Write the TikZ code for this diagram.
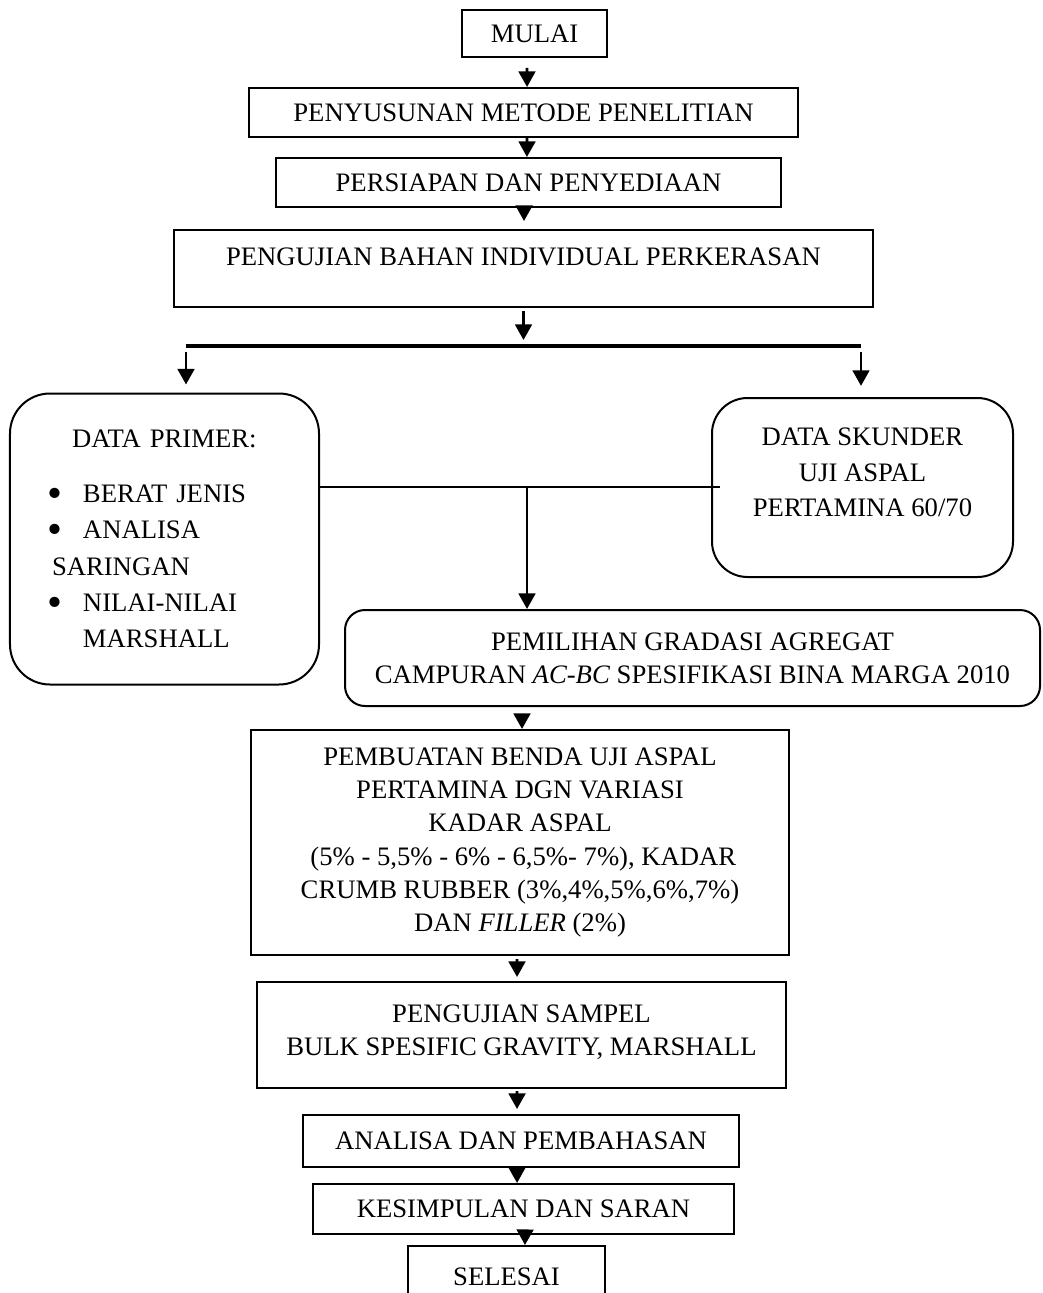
\documentclass[tikz,border=0pt]{standalone}
\usepackage{fontspec}
\setmainfont{Liberation Serif}
\usetikzlibrary{arrows.meta}
\newcommand{\bigdot}{\makebox[16.2pt][l]{\raisebox{-2.2pt}{\scalebox{1.6}{\textbullet}}}}

\begin{document}
\begin{tikzpicture}[
  x=0.45pt, y=-0.45pt,
  box/.style={draw, line width=0.9pt, align=center, inner sep=0pt,
    font=\fontsize{12}{15}\selectfont},
  rbox/.style={box, rounded corners=#1},
  arr/.style={-{Triangle[length=7pt,width=7.5pt]}, line width=1.2pt},
  link/.style={line width=1.2pt},
  bar/.style={line width=1.8pt}
]
\useasboundingbox (0,0) rectangle (1042,1293);
% upper steps
\node[box, minimum width=65.25pt, minimum height=21.15pt] (mulai) at (534.5,33.5) {MULAI};
\node[box, minimum width=247.05pt, minimum height=22.05pt] (metode) at (523.5,112.5) {PENYUSUNAN METODE PENELITIAN};
\node[box, minimum width=227.25pt, minimum height=22.05pt] (persiapan) at (528.5,182.5) {PERSIAPAN DAN PENYEDIAAN};
\node[box, minimum width=314.55pt, minimum height=34.65pt, text depth=10.4pt] (bahan) at (523.5,268.5) {PENGUJIAN BAHAN INDIVIDUAL PERKERASAN};
% data boxes
\node[rbox=18pt, minimum width=139.05pt, minimum height=130.95pt, text width=105.75pt,
  inner xsep=16.65pt, align=left, font=\fontsize{12}{16.3}\selectfont] (primer) at (164.5,539)
  {\hspace*{11.25pt}DATA PRIMER:\\[8.45pt]
   \bigdot BERAT JENIS\\
   \bigdot ANALISA\\
   \hspace*{2.25pt}SARINGAN\\
   \bigdot NILAI-NILAI\\
   \hspace*{16.2pt}MARSHALL};
\node[rbox=16pt, minimum width=135.45pt, minimum height=80.55pt, text depth=13.5pt,
  font=\fontsize{12}{16}\selectfont] (skunder) at (862.5,487.5) {DATA SKUNDER\\UJI ASPAL\\PERTAMINA 60/70};
\node[rbox=9pt, minimum width=312.75pt, minimum height=43.2pt] (pemilihan) at (692.5,658)
  {PEMILIHAN GRADASI AGREGAT\\CAMPURAN \textit{AC-BC} SPESIFIKASI BINA MARGA 2010};
% lower steps
\node[box, minimum width=242.1pt, minimum height=101.25pt] (pembuatan) at (520,842.5)
  {PEMBUATAN BENDA UJI ASPAL\\PERTAMINA DGN VARIASI\\KADAR ASPAL\\
   \hspace*{3pt}(5\% - 5,5\% - 6\% - 6,5\%- 7\%), KADAR\\
   CRUMB RUBBER (3\%,4\%,5\%,6\%,7\%)\\DAN \textit{FILLER} (2\%)};
\node[box, minimum width=238.05pt, minimum height=47.7pt, text depth=4.5pt] (sampel) at (521.5,1035)
  {PENGUJIAN SAMPEL\\BULK SPESIFIC GRAVITY, MARSHALL};
\node[box, minimum width=196.2pt, minimum height=23.4pt] (analisa) at (521,1141) {ANALISA DAN PEMBAHASAN};
\node[box, minimum width=189.45pt, minimum height=22.5pt] (kesimpulan) at (523.5,1209) {KESIMPULAN DAN SARAN};
\node[box, minimum width=88.65pt, minimum height=27.9pt] (selesai) at (506.5,1277) {SELESAI};
% branch points
\coordinate (barL) at (186,346);
\coordinate (barR) at (861,346);
\coordinate (junc) at (527,487);
% connectors
\draw[arr, shorten <=4.5pt] ([xshift=-3.4pt]mulai.south) -- ([xshift=1.6pt]metode.north);
\draw[arr] ([xshift=1.6pt]metode.south) -- ([xshift=-0.7pt]persiapan.north);
\draw[arr, shorten <=-2.25pt, shorten >=3.6pt] ([xshift=-2pt]persiapan.south) -- ([xshift=0.2pt]bahan.north);
\draw[arr, shorten <=1.35pt, shorten >=2.7pt] (bahan.south) -- (bahan.south |- barL);
\draw[bar] (barL) -- (barR);
\draw[arr, shorten <=2.7pt, shorten >=3.6pt] (barL) -- (barL |- primer.north);
\draw[arr, shorten <=2.7pt, shorten >=5pt] (barR) -- (barR |- skunder.north);
\draw[link] (junc -| primer.east) -- ([xshift=4pt]junc -| skunder.west);
\draw[arr] (junc) -- (junc |- pemilihan.north);
\draw[arr, shorten <=3.15pt] ([xshift=0.9pt]pembuatan.north |- pemilihan.south) -- ([xshift=0.9pt]pembuatan.north);
\draw[arr, shorten <=1.35pt, shorten >=1.8pt] ([xshift=-1.35pt]pembuatan.south) -- ([xshift=-2pt]sampel.north);
\draw[arr, shorten <=0.9pt, shorten >=2.25pt] ([xshift=-2pt]sampel.south) -- ([xshift=-1.8pt]analisa.north);
\draw[arr] ([xshift=-1.8pt]analisa.south) -- ([xshift=-2.9pt]kesimpulan.north);
\draw[arr, shorten <=-2.7pt] ([xshift=0.7pt]kesimpulan.south) -- ([xshift=8.3pt]selesai.north);
\end{tikzpicture}
\end{document}
